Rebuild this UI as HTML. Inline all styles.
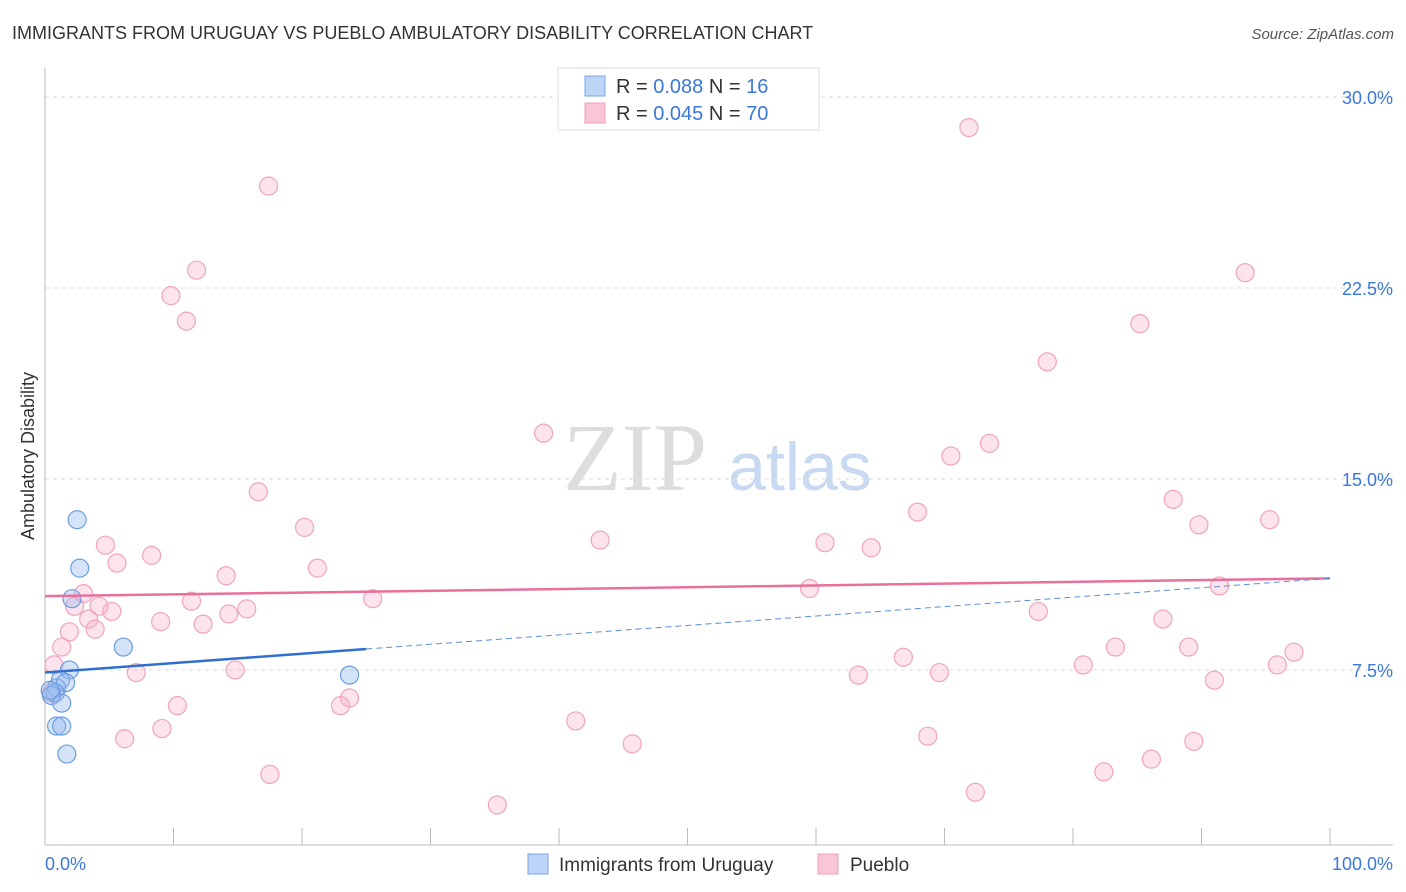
<!DOCTYPE html>
<html><head><meta charset="utf-8"><style>
body{margin:0;background:#fff;font-family:"Liberation Sans",sans-serif;}
svg{display:block}
</style></head><body>
<svg id="chart" width="1406" height="892" viewBox="0 0 1406 892">
<text x="12" y="39" font-size="18" fill="#333">IMMIGRANTS FROM URUGUAY VS PUEBLO AMBULATORY DISABILITY CORRELATION CHART</text>
<text x="1394" y="39" font-size="15" fill="#555" font-style="italic" text-anchor="end">Source: ZipAtlas.com</text>
<text transform="translate(34,456) rotate(-90)" font-size="18" fill="#333" text-anchor="middle">Ambulatory Disability</text>
<g>
<text x="635" y="490" font-size="96" fill="#ddd" font-family="Liberation Serif,serif" text-anchor="middle">ZIP</text>
<text x="800" y="490" font-size="68" fill="#c8daf2" text-anchor="middle">atlas</text>
</g>
<g id="grid"></g>
<g id="axes"></g>
<g id="marks"></g>
<g id="trend"></g>
<g>
<rect x="558" y="68" width="261" height="62" fill="#fff" stroke="#ddd"/>
<rect x="585" y="76" width="20" height="20" fill="#bcd4f6" stroke="#7aa6e6"/>
<rect x="585" y="103" width="20" height="20" fill="#f9c6d6" stroke="#f0a0b8"/>
<text x="616" y="93" font-size="20" fill="#333">R = <tspan fill="#3a78d8">0.088</tspan>   N =  <tspan fill="#3a78d8">16</tspan></text>
<text x="616" y="120" font-size="20" fill="#333">R = <tspan fill="#3a78d8">0.045</tspan>   N = <tspan fill="#3a78d8">70</tspan></text>
</g>
<g>
<rect x="528" y="854" width="20" height="20" fill="#bcd4f6" stroke="#7aa6e6"/>
<text x="559" y="871" font-size="19" fill="#333">Immigrants from Uruguay</text>
<rect x="818" y="854" width="20" height="20" fill="#f9c6d6" stroke="#f0a0b8"/>
<text x="850" y="871" font-size="19" fill="#333">Pueblo</text>
</g>
</svg>
<script>
const yTicks=[7.5,15,22.5,30];
const yTickLabels=["7.5%","15.0%","22.5%","30.0%"];
const xTickLabels=["0.0%","100.0%"];
const pinkX=[17.4,11.8,9.8,11.0,71.9,93.4,85.2,78.0,38.8,73.5,70.5,16.6,87.8,67.9,95.3,20.2,89.8,43.2,60.7,64.3,4.7,8.3,5.6,21.2,14.1,59.5,91.4,3.0,11.4,2.3,5.2,4.2,25.5,14.3,15.7,3.4,9.0,12.3,3.9,1.9,77.3,87.0,1.3,89.0,83.3,66.8,0.7,97.2,95.9,80.8,7.1,14.8,63.3,69.6,91.0,23.7,23.0,10.3,41.3,9.1,6.2,68.7,45.7,89.4,86.1,82.4,17.5,72.4,35.2,0.5];
const pinkY=[26.5,23.2,22.2,21.2,28.8,23.1,21.1,19.6,16.8,16.4,15.9,14.5,14.2,13.7,13.4,13.1,13.2,12.6,12.5,12.3,12.4,12.0,11.7,11.5,11.2,10.7,10.8,10.5,10.2,10.0,9.8,10.0,10.3,9.7,9.9,9.5,9.4,9.3,9.1,9.0,9.8,9.5,8.4,8.4,8.4,8.0,7.7,8.2,7.7,7.7,7.4,7.5,7.3,7.4,7.1,6.4,6.1,6.1,5.5,5.2,4.8,4.9,4.6,4.7,4.0,3.5,3.4,2.7,2.2,6.6];
const blueX=[2.5,2.7,2.1,6.1,23.7,1.9,1.2,0.9,1.6,0.8,0.5,1.3,0.9,1.3,1.7,0.4];
const blueY=[13.4,11.5,10.3,8.4,7.3,7.5,7.1,6.8,7.0,6.6,6.5,6.2,5.3,5.3,4.2,6.7];
const pinkTrend=[10.4,11.1];
const blueTrend=[7.4,11.1];
const blueSolidEnd=25;

const NS="http://www.w3.org/2000/svg";
const X=v=>45+v*12.85;
const Y=v=>861-v*25.467;
function mk(tag,attrs,parent){const e=document.createElementNS(NS,tag);for(const k in attrs)e.setAttribute(k,attrs[k]);document.getElementById(parent).appendChild(e);return e;}
yTicks.forEach((t,i)=>{
  const l=mk('line',{x1:45,x2:1393,y1:Y(t),y2:Y(t),stroke:'#ddd','stroke-dasharray':'4,4'},'grid');
  
  
  const tx=mk('text',{x:1393,y:Y(t)+7,'font-size':18,fill:'#3a78d8','text-anchor':'end'},'grid');
  tx.textContent=yTickLabels[i];
  
  
});
const ax=mk('line',{x1:45,x2:45,y1:68,y2:845,stroke:'#bbb'},'axes');


const bx=mk('line',{x1:45,x2:1393,y1:845,y2:845,stroke:'#bbb'},'axes');


for(let i=0;i<=10;i++){
  const t=mk('line',{x1:X(i*10),x2:X(i*10),y1:828,y2:845,stroke:'#bbb'},'axes');
  
  
}
[[0,'start',45],[100,'end',1393]].forEach((d,i)=>{
  const t=mk('text',{x:d[2],y:870,'font-size':18,fill:'#3a78d8','text-anchor':d[1]},'axes');
  t.textContent=xTickLabels[i];
  
  
});
pinkX.forEach((v,i)=>{
  const c=mk('circle',{cx:X(v),cy:Y(pinkY[i]),r:9,fill:'rgba(248,176,200,0.35)',stroke:'#f0a4bc','stroke-width':1.2},'marks');
  
  
});
blueX.forEach((v,i)=>{
  const c=mk('circle',{cx:X(v),cy:Y(blueY[i]),r:9,fill:'rgba(150,185,240,0.4)',stroke:'#6a9ee0','stroke-width':1.2},'marks');
  
  
});
const by=x=>blueTrend[0]+(blueTrend[1]-blueTrend[0])*x/100;
const l1=mk('line',{x1:X(0),y1:Y(pinkTrend[0]),x2:X(100),y2:Y(pinkTrend[1]),stroke:'#e8709a','stroke-width':2.5},'trend');


const l2=mk('line',{x1:X(0),y1:Y(by(0)),x2:X(blueSolidEnd),y2:Y(by(blueSolidEnd)),stroke:'#2f6fd0','stroke-width':2.5},'trend');


const l3=mk('line',{x1:X(blueSolidEnd),y1:Y(by(blueSolidEnd)),x2:X(100),y2:Y(by(100)),stroke:'#5b8fd8','stroke-width':1,'stroke-dasharray':'6,4'},'trend');


</script>
</body></html>
